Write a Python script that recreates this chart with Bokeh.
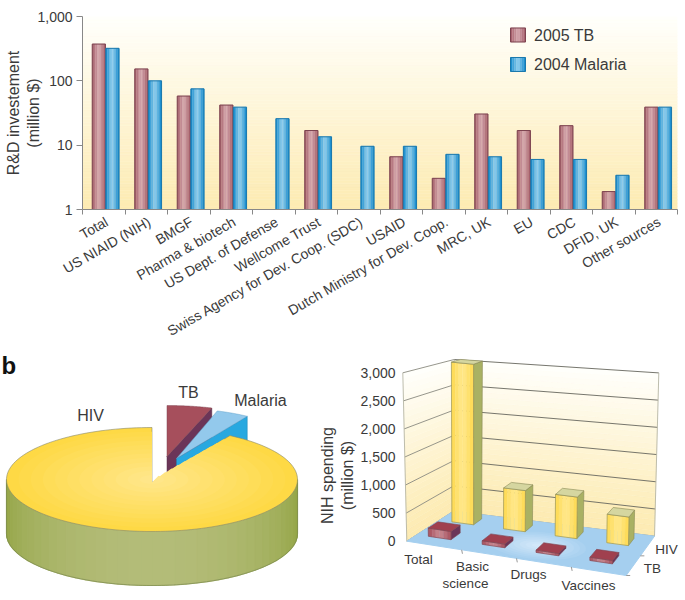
import numpy as np
from bokeh.plotting import figure
from bokeh.layouts import column, row
from bokeh.models import FixedTicker, NumeralTickFormatter
from bokeh.core.properties import value
from bokeh.embed import file_html
from bokeh.resources import INLINE

FONT = "Liberation Sans"
TXT = "#3a3a3a"

# ---------- data ----------
funders = ["Total", "US NIAID (NIH)", "BMGF", "Pharma & biotech", "US Dept. of Defense",
           "Wellcome Trust", "Swiss Agency for Dev. Coop. (SDC)", "USAID",
           "Dutch Ministry for Dev. Coop.", "MRC, UK", "EU", "CDC", "DFID, UK", "Other sources"]
tb_2005 = [373, 153, 58, 42, None, 16.9, None, 6.6, 3.05, 30.5, 16.9, 20.1, 1.9, 39]
malaria_2004 = [320, 100, 75, 39, 25.8, 13.5, 9.6, 9.6, 7.2, 6.6, 6.0, 6.0, 3.4, 39]
y_ticks = [1, 10, 100, 1000]
y_labels = {1: "1", 10: "10", 100: "100", 1000: "1,000"}

pie_labels = ["HIV", "TB", "Malaria"]
pie_shares = [91, 5, 4]

nih_categories = ["Total", "Basic\nscience", "Drugs", "Vaccines"]
nih_hiv = [3050, 772, 772, 525]
nih_tb = [150, 66, 42, 60]
nih_ticks = [0, 500, 1000, 1500, 2000, 2500, 3000]


def lerp(c1, c2, t):
    a = [int(c1[i:i + 2], 16) for i in (1, 3, 5)]
    b = [int(c2[i:i + 2], 16) for i in (1, 3, 5)]
    return "#%02x%02x%02x" % tuple(int(round(a[i] + (b[i] - a[i]) * t)) for i in range(3))


# ---------- panel a ----------
a = figure(width=685, height=350, x_range=(0, 14), y_range=(1, 1000), y_axis_type="log",
           output_backend="svg", toolbar_location=None,
           min_border_left=82, min_border_right=8, min_border_top=16, min_border_bottom=141)
a.outline_line_color = None
a.grid.visible = False

# background gradient
edges = np.logspace(0, 3, 61)
for i in range(60):
    col = lerp("#fdebb2", "#fffffb", i / 59)
    a.quad(left=0, right=14, bottom=edges[i], top=edges[i + 1], fill_color=col, line_color=col, line_width=0.5)


def grad_bar(fig, x0, w, top, edge, mid, outline, n=8):
    ls = [x0 + w * k / n for k in range(n)]
    rs = [x0 + w * (k + 1) / n for k in range(n)]
    cols = [lerp(edge, mid, 1 - abs(2 * (k + .5) / n - 1)) for k in range(n)]
    fig.quad(left=ls, right=rs, bottom=1, top=top, fill_color=cols, line_color=cols, line_width=0.3)
    fig.quad(left=x0, right=x0 + w, bottom=1, top=top, fill_color=None, line_color=outline, line_width=1)


TB_C = ("#a35a66", "#d6aab0", "#7d4450")
MAL_C = ("#0f88cc", "#94d0f0", "#1a78ad")
for i, (t, m) in enumerate(zip(tb_2005, malaria_2004)):
    if t is not None:
        grad_bar(a, i + .23, .31, t, *TB_C)
    if m is not None:
        grad_bar(a, i + .55, .31, m, *MAL_C)

px2x = lambda px: (px - 82) / (595 / 14)
px2y = lambda py: 10 ** ((209 - py) / 64.33)
for lab, c, y0 in (("2005 TB", TB_C, 27.5), ("2004 Malaria", MAL_C, 57)):
    x0, x1 = px2x(510), px2x(525)
    n = 8
    ls = [x0 + (x1 - x0) * k / n for k in range(n)]
    rs = [x0 + (x1 - x0) * (k + 1) / n for k in range(n)]
    cols = [lerp(c[0], c[1], 1 - abs(2 * (k + .5) / n - 1)) for k in range(n)]
    a.quad(left=ls, right=rs, bottom=px2y(y0 + 14), top=px2y(y0), fill_color=cols, line_color=cols, line_width=0.3)
    a.quad(left=x0, right=x1, bottom=px2y(y0 + 14), top=px2y(y0), fill_color=None, line_color=c[2])
    a.text(x=[px2x(533.5)], y=[px2y(y0 + 7.5)], text=[lab], text_font=value(FONT), text_font_size="16px",
           text_color=TXT, text_baseline="middle")

centers = [i + .57 for i in range(14)]
xax = a.xaxis[0]
xax.ticker = FixedTicker(ticks=centers, minor_ticks=list(range(15)))
xax.major_label_overrides = {c: f for c, f in zip(centers, funders)}
xax.major_tick_line_color = None
xax.minor_tick_out = 5
xax.minor_tick_in = 0
xax.minor_tick_line_color = "#888888"
xax.axis_line_color = "#888888"
xax.major_label_orientation = np.radians(30)
xax.major_label_text_font = FONT
xax.major_label_text_font_size = "14px"
xax.major_label_text_color = TXT
xax.major_label_standoff = 5

yax = a.yaxis[0]
yax.ticker = FixedTicker(ticks=y_ticks, minor_ticks=[])
yax.major_label_overrides = y_labels
yax.major_tick_out = 6
yax.major_tick_in = 0
yax.major_tick_line_color = "#888888"
yax.axis_line_color = "#888888"
yax.major_label_text_font = FONT
yax.major_label_text_font_size = "14px"
yax.major_label_text_color = TXT
yax.major_label_standoff = 4
yax.axis_label = "R&D investement\n(million $)"
yax.axis_label_text_font = FONT
yax.axis_label_text_font_style = "normal"
yax.axis_label_text_font_size = "16px"
yax.axis_label_text_color = TXT
yax.axis_label_standoff = -8

# ---------- panel b, pie ----------
pie = figure(width=310, height=250, x_range=(0, 310), y_range=(600, 350),
             output_backend="svg", toolbar_location=None, min_border=0)
pie.axis.visible = False
pie.grid.visible = False
pie.outline_line_color = None

shares = np.array(pie_shares, float) / sum(pie_shares) * 360
tb_start, tb_end = 90, 90 - shares[1]
mal_start, mal_end = tb_end, tb_end - shares[2]
hiv_start, hiv_end = mal_end, mal_end - shares[0]


def wedge(cx, cy, A, B, t0, t1, r=1.0, z=0, n=120, apex=True):
    th = np.radians(np.linspace(t0, t1, n))
    xs = cx + A * r * np.cos(th)
    ys = cy - B * r * np.sin(th) + z
    if apex:
        xs = np.r_[cx, xs]
        ys = np.r_[cy + z, ys]
    return xs.tolist(), ys.tolist()


DEPTH = 54
# TB piece
tcx, tcy, tA, tB = 166.5, 456, 145, 51
ex = tcx + tA * np.cos(np.radians(tb_end))
ey = tcy - tB * np.sin(np.radians(tb_end))
pie.patch([tcx, tcx, ex, ex], [tcy, tcy + DEPTH, ey + DEPTH, ey], fill_color="#6b3558", line_color="#5a3048", line_width=.5)
xs, ys = wedge(tcx, tcy, tA, tB, tb_start, tb_end)
pie.patch(xs, ys, fill_color="#a64f5c", line_color="#7d4450", line_width=.5)
# Malaria piece
mcx, mcy, mA, mB = 176, 458, 132, 50
ex = mcx + mA * np.cos(np.radians(mal_end))
ey = mcy - mB * np.sin(np.radians(mal_end))
pie.patch([mcx, mcx, ex, ex], [mcy, mcy + DEPTH, ey + DEPTH, ey], fill_color="#28a8e0", line_color="#2080b0", line_width=.5)
xs, ys = wedge(mcx, mcy, mA, mB, mal_start, mal_end)
pie.patch(xs, ys, fill_color="#93c9ec", line_color="#5c9cc4", line_width=.5)
# HIV wall
hcx, hcy, hA, hB = 151.5, 479, 145.5, 52
nw = 40
ths = np.linspace(180, 360, nw + 1)
for k in range(nw):
    t0, t1 = np.radians(ths[k]), np.radians(ths[k + 1])
    mid = (ths[k] + ths[k + 1]) / 2
    col = lerp("#93a545", "#b3bc78", max(0, np.sin(np.radians(mid - 180))) ** 1.2)
    x0, x1 = hcx + hA * np.cos(t0), hcx + hA * np.cos(t1)
    y0, y1 = hcy - hB * np.sin(t0), hcy - hB * np.sin(t1)
    pie.patch([x0, x1, x1, x0], [y0, y1, y1 + DEPTH, y0 + DEPTH], fill_color=col, line_color=col, line_width=1.2)
xs, ys = wedge(hcx, hcy, hA, hB, 180, 360, z=DEPTH, apex=False)
pie.line(xs, ys, line_color="#7b8a50", line_width=.7)
pie.line([hcx - hA, hcx - hA], [hcy, hcy + DEPTH], line_color="#7b8a50", line_width=.7)
pie.line([hcx + hA, hcx + hA], [hcy, hcy + DEPTH], line_color="#7b8a50", line_width=.7)
# HIV top, rings
nr = 12
apex_y = 482
for k in range(nr):
    r = 1 - k / nr
    col = lerp("#fed945", "#ffe689", k / (nr - 1))
    th = np.radians(np.linspace(hiv_start, hiv_end, 160))
    xs = np.r_[hcx, hcx + hA * r * np.cos(th)]
    ys = np.r_[apex_y, hcy - hB * r * np.sin(th)]
    pie.patch(xs.tolist(), ys.tolist(), fill_color=col, line_color=col if k else "#8a8a6a", line_width=.6 if k == 0 else 0)

pie.text(x=[90, 188, 260], y=[415, 392, 400], text=pie_labels, text_font=value(FONT), text_font_size="16px",
         text_color=TXT, text_align="center", text_baseline="middle")
pie.text(x=[1], y=[365], text=["b"], text_font=value(FONT), text_font_style="bold", text_font_size="24px",
         text_color="#111111", text_baseline="middle")

# ---------- panel b, 3-D bars ----------
Y0, YK = 540.7, 168.4 / 3000           # screen y of zero, px per unit on the front-left edge
FL, BL, BR, FR = (406.3, 540.7), (453, 510.7), (654, 535.7), (625.7, 575)
H = dict(FL=168.4, BL=151.7, BR=163.3, FR=166)
LEAN = dict(FL=-4, BL=.7, BR=4.3, FR=1)
sy2v = lambda sy: (Y0 - sy) / YK

nih = figure(width=375, height=250, x_range=(400, 685), y_range=(sy2v(600), sy2v(350)),
             output_backend="svg", toolbar_location=None,
             min_border_left=90, min_border_right=0, min_border_top=0, min_border_bottom=0,
             x_axis_location=None)
nih.grid.visible = False
nih.outline_line_color = None


def bil(u, v, fl, bl, br, fr):
    return (1 - u) * (1 - v) * fl + (1 - u) * v * bl + u * v * br + u * (1 - v) * fr


def P(u, v, w=0):
    """project category-depth position (u, v in 0..1) and spending w to figure coordinates"""
    fx = bil(u, v, FL[0], BL[0], BR[0], FR[0])
    fy = bil(u, v, FL[1], BL[1], BR[1], FR[1])
    h = bil(u, v, H["FL"], H["BL"], H["BR"], H["FR"])
    ln = bil(u, v, LEAN["FL"], LEAN["BL"], LEAN["BR"], LEAN["FR"])
    return fx + ln * w / 3000, sy2v(fy - h * w / 3000)


def poly(pts, **kw):
    xs, ys = zip(*pts)
    nih.patch(list(xs), list(ys), **kw)


# walls
steps = np.linspace(0, 3000, 31)
for k in range(30):
    col = lerp("#fdebb2", "#fffffb", (k / 29) ** 1.1)
    w0, w1 = steps[k], steps[k + 1]
    poly([P(0, 0, w0), P(0, 1, w0), P(0, 1, w1), P(0, 0, w1)], fill_color=col, line_color=col, line_width=.4)
    poly([P(0, 1, w0), P(1, 1, w0), P(1, 1, w1), P(0, 1, w1)], fill_color=col, line_color=col, line_width=.4)
for w in nih_ticks:
    pts = [P(0, 0, w), P(0, 1, w)]
    nih.line(*zip(*pts), line_color="#8a8a80", line_width=.9)
    pts = [P(0, 1, w), P(1, 1, w)]
    nih.line(*zip(*pts), line_color="#66665e" if w else "#8a8a80", line_width=.9)
for pts in ([P(0, 0), P(0, 0, 3000)], [P(0, 1), P(0, 1, 3000)], [P(1, 1), P(1, 1, 3000)]):
    nih.line(*zip(*pts), line_color="#b5b5a5", line_width=.9)

# floor
poly([P(0, 0), P(1, 0), P(1, 1), P(0, 1)], fill_color="#a5cfef", line_color="#a5cfef")
for k in range(8):
    r = .22 * (1 - k / 8)
    th = np.linspace(0, 2 * np.pi, 48)
    us = np.clip(.53 + r * np.cos(th), 0, 1)
    vs = np.clip(.40 + 1.6 * r * np.sin(th), 0, 1)
    poly([P(u, v) for u, v in zip(us, vs)], fill_color=lerp("#a5cfef", "#d2e7f9", (k + 1) / 8), line_color=None)

# ticks on the floor's front and right edges
for u in (.25, .5, .75):
    x, y = P(u, 0)
    nih.segment(x, y, x + .8, y - 4 / YK, line_color="#999999", line_width=1)
for v in (0, .5):
    x, y = P(1, v)
    nih.segment(x, y, x + 4, y, line_color="#999999", line_width=1)


def bar3d(uc, uw, v0, v1, w, front0, front1, side, top, line):
    u0, u1 = uc - uw / 2, uc + uw / 2
    n = 6
    poly([P(u1, v0), P(u1, v1), P(u1, v1, w), P(u1, v0, w)], fill_color=side, line_color=line, line_width=.6)
    for k in range(n):
        a0, a1 = u0 + (u1 - u0) * k / n, u0 + (u1 - u0) * (k + 1) / n
        col = lerp(front0, front1, 1 - abs(2 * (k + .5) / n - 1))
        poly([P(a0, v0), P(a1, v0), P(a1, v0, w), P(a0, v0, w)], fill_color=col, line_color=col, line_width=.3)
    poly([P(u0, v0), P(u1, v0), P(u1, v0, w), P(u0, v0, w)], fill_color=None, line_color=line, line_width=.6)
    poly([P(u0, v0, w), P(u1, v0, w), P(u1, v1, w), P(u0, v1, w)], fill_color=top, line_color=line, line_width=.6)


for i, w in enumerate(nih_hiv):
    bar3d((i + .45) * .25, .105, .70, .885, w, "#fed94f", "#ffe98f", "#a9b163", "#d5d6a0", "#8a8a55")
for i, w in enumerate(nih_tb):
    bar3d((i + .42) * .25, .105, .22, .43, w, "#a64f5c", "#c98a92", "#6b3558", "#a0404f", "#7d4450")

cat_pos = [(418, 559), (472, 566), (528, 574), (588, 585)]
for (name, (x, y)) in zip(nih_categories, cat_pos):
    parts = name.split("\n")
    nih.text(x=[x], y=[sy2v(y)], text=[parts[0]], text_font=value(FONT), text_font_size="13.5px",
             text_color=TXT, text_align="center", text_baseline="middle")
    if len(parts) > 1:
        nih.text(x=[x - 7], y=[sy2v(y + 17)], text=[parts[1]], text_font=value(FONT), text_font_size="13.5px",
                 text_color=TXT, text_align="center", text_baseline="middle")
nih.text(x=[666, 652], y=[sy2v(549), sy2v(568)], text=["HIV", "TB"], text_font=value(FONT), text_font_size="13.5px",
         text_color=TXT, text_align="center", text_baseline="middle")

ax = nih.yaxis[0]
ax.ticker = FixedTicker(ticks=nih_ticks)
ax.formatter = NumeralTickFormatter(format="0,0")
ax.axis_line_color = None
ax.major_tick_line_color = None
ax.minor_tick_line_color = None
ax.major_label_text_font = FONT
ax.major_label_text_font_size = "14px"
ax.major_label_text_color = TXT
ax.major_label_standoff = -1
ax.axis_label = "NIH spending\n(million $)"
ax.axis_label_text_font = FONT
ax.axis_label_text_font_style = "normal"
ax.axis_label_text_font_size = "16px"
ax.axis_label_text_color = TXT
ax.axis_label_standoff = 1

layout = column(a, row(pie, nih, spacing=0), spacing=0)
open("out.html", "w").write(file_html(layout, INLINE))
